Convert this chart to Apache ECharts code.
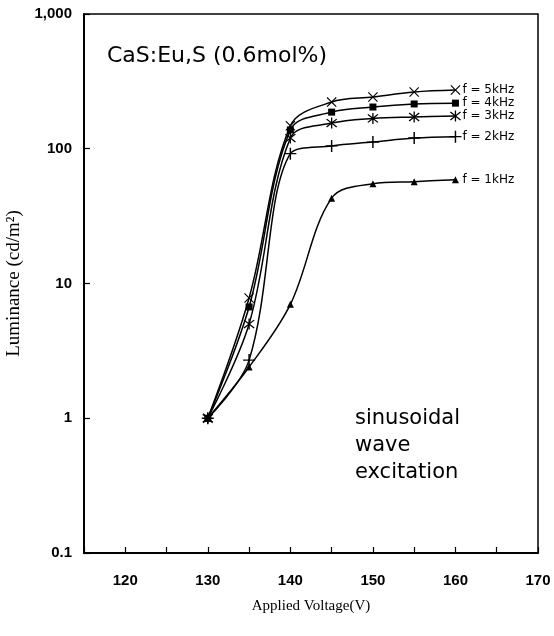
<!DOCTYPE html>
<html>
<head>
<meta charset="utf-8">
<script src="https://cdn.jsdelivr.net/npm/echarts@6/dist/echarts.min.js"></script>
<style>
  html, body { margin: 0; padding: 0; background: #fff; }
  #chart { width: 554px; height: 636px; }
</style>
</head>
<body>
<div id="chart"></div>
<script>
// applied voltage (V)
const voltages = [130, 135, 140, 145, 150, 155, 160];

// luminance (cd/m^2) per excitation frequency
const lum1k = [1, 2.4, 7, 43, 55, 57, 59];
const lum2k = [1, 2.7, 92, 105, 112, 120, 123];
const lum3k = [1, 5.0, 120, 155, 168, 172, 175];
const lum4k = [1, 6.7, 138, 187, 204, 215, 218];
const lum5k = [1, 7.8, 148, 222, 242, 264, 273];

const seriesNames = ['f = 1kHz', 'f = 2kHz', 'f = 3kHz', 'f = 4kHz', 'f = 5kHz'];
const yTickLabels = { 0.1: '0.1', 1: '1', 10: '10', 100: '100', 1000: '1,000' };

const SYM_PLUS = 'path://M4.4,0H5.6V10H4.4ZM0,4.4H10V5.6H0Z';
const SYM_X = 'path://M0.8,0L5,4.2L9.2,0L10,0.8L5.8,5L10,9.2L9.2,10L5,5.8L0.8,10L0,9.2L4.2,5L0,0.8Z';
const SYM_STAR = 'path://M4.4,0H5.6V10H4.4ZM0.8,1L5,4.3L9.2,1L10,1.8L5.9,5L10,8.2L9.2,9L5,5.7L0.8,9L0,8.2L4.1,5L0,1.8Z';

const SANS = '"DejaVu Sans", Verdana, sans-serif';
const SERIF = '"Liberation Serif", "Times New Roman", serif';

function makeSeries(name, values, symbol, size) {
    return {
        name,
        type: 'line',
        data: voltages.map((v, i) => [v, values[i]]),
        smooth: 0.35,
        symbol,
        symbolSize: size,
        lineStyle: { color: '#000', width: 1.5 },
        itemStyle: { color: '#000', borderWidth: 0 },
        endLabel: {
            show: true,
            formatter: name,
            color: '#000',
            fontFamily: SANS,
            fontSize: 12,
            distance: 7,
        },
        z: 3,
    };
}

const chart = echarts.init(document.getElementById('chart'), null, { renderer: 'canvas' });

const option = {
    backgroundColor: '#fff',
    animation: false,
    grid: {
        left: 84, top: 14, right: 16, bottom: 83,
        outerBoundsMode: 'none',
        containLabel: false,
        show: true, borderColor: '#000', borderWidth: 1.5,
    },
    xAxis: {
        type: 'value',
        min: 115,
        max: 170,
        interval: 5,
        name: 'Applied Voltage(V)',
        nameLocation: 'middle',
        nameGap: 46,
        nameTextStyle: { fontFamily: SERIF, fontSize: 15, color: '#000' },
        axisLine: { lineStyle: { color: '#000', width: 2 } },
        axisTick: { inside: true, length: 6, lineStyle: { color: '#000', width: 1.2 } },
        axisLabel: {
            margin: 20,
            color: '#000',
            fontFamily: '"Liberation Sans", Arial, sans-serif',
            fontWeight: 'bold',
            fontSize: 15,
            formatter: (v) => (v % 10 === 0 ? String(v) : ''),
        },
        splitLine: { show: false },
    },
    yAxis: {
        type: 'log',
        logBase: 10,
        min: 0.1,
        max: 1000,
        name: 'Luminance (cd/m²)',
        nameLocation: 'middle',
        nameGap: 50,
        nameTextStyle: { fontFamily: SERIF, fontSize: 19, color: '#000' },
        axisLine: { lineStyle: { color: '#000', width: 2 } },
        axisTick: { inside: true, length: 6, lineStyle: { color: '#000', width: 1.2 } },
        axisLabel: {
            margin: 12,
            color: '#000',
            fontFamily: '"Liberation Sans", Arial, sans-serif',
            fontWeight: 'bold',
            fontSize: 15,
            formatter: (v) => {
                const k = Math.round(Math.log10(v));
                return yTickLabels[Math.pow(10, k)] ?? '';
            },
        },
        splitLine: { show: false },
    },
    graphic: [
        {
            type: 'text',
            left: 107,
            top: 45,
            style: {
                text: 'CaS:Eu,S (0.6mol%)',
                fill: '#000',
                font: '22px ' + SANS,
            },
        },
        {
            type: 'text',
            left: 355,
            top: 405,
            style: {
                text: 'sinusoidal\nwave\nexcitation',
                fill: '#000',
                font: '21px ' + SANS,
                lineHeight: 27,
            },
        },
    ],
    series: [
        makeSeries(seriesNames[0], lum1k, 'triangle', 7),
        makeSeries(seriesNames[1], lum2k, SYM_PLUS, 12),
        makeSeries(seriesNames[2], lum3k, SYM_STAR, 11),
        makeSeries(seriesNames[3], lum4k, 'rect', 7),
        makeSeries(seriesNames[4], lum5k, SYM_X, 10),
    ],
};

chart.setOption(option);
</script>
</body>
</html>
